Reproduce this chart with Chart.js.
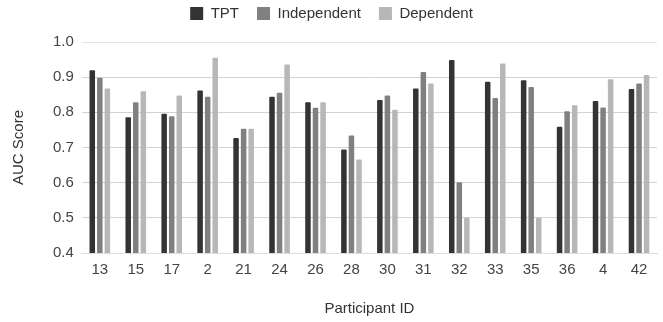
<!DOCTYPE html>
<html>
<head>
<meta charset="utf-8">
<script src="https://cdn.jsdelivr.net/npm/chart.js@4"></script>
<style>
  html, body { margin: 0; padding: 0; background: #fff; }
  #wrap { width: 663px; height: 322px; }
</style>
</head>
<body>
<div id="wrap"><canvas id="chart"></canvas></div>
<script>
// Dados do gráfico
const participantes = ['13', '15', '17', '2', '21', '24', '26', '28', '30', '31', '32', '33', '35', '36', '4', '42'];
const tpt =          [0.920, 0.786, 0.796, 0.862, 0.727, 0.844, 0.829, 0.694, 0.835, 0.868, 0.949, 0.887, 0.891, 0.759, 0.832, 0.866];
const independent =  [0.898, 0.829, 0.789, 0.844, 0.753, 0.856, 0.813, 0.734, 0.848, 0.915, 0.601, 0.841, 0.872, 0.803, 0.814, 0.882];
const dependent =    [0.868, 0.860, 0.848, 0.955, 0.753, 0.936, 0.829, 0.666, 0.807, 0.882, 0.500, 0.939, 0.500, 0.820, 0.894, 0.906];

const fonte = "'Liberation Sans', Arial, sans-serif";

// Espaço extra abaixo da legenda
const legendaEspaco = {
    id: 'legendaEspaco',
    beforeInit(chart) {
        const fitOriginal = chart.legend.fit;
        chart.legend.fit = function () {
            fitOriginal.call(this);
            this.height += 11;
        };
    }
};

const ctx = document.getElementById('chart').getContext('2d');
new Chart(ctx, {
    type: 'bar',
    data: {
        labels: participantes,
        datasets: [
            { label: 'TPT', data: tpt, backgroundColor: '#333333' },
            { label: 'Independent', data: independent, backgroundColor: '#808080' },
            { label: 'Dependent', data: dependent, backgroundColor: '#b7b7b7' }
        ]
    },
    plugins: [legendaEspaco],
    options: {
        responsive: true,
        maintainAspectRatio: false,
        animation: false,
        datasets: {
            bar: {
                categoryPercentage: 0.63,
                barPercentage: 0.73,
                borderRadius: 1
            }
        },
        layout: { padding: { left: 6, right: 6, top: -12, bottom: 0 } },
        plugins: {
            legend: {
                position: 'top',
                labels: {
                    boxWidth: 13,
                    boxHeight: 13,
                    padding: 18,
                    color: '#333',
                    font: { family: fonte, size: 15 }
                }
            },
            tooltip: { enabled: false }
        },
        scales: {
            x: {
                grid: { display: false },
                border: { display: true, color: '#dddddd' },
                ticks: { color: '#444', font: { family: fonte, size: 15 }, padding: 0 },
                title: {
                    display: true,
                    text: 'Participant ID',
                    color: '#333',
                    font: { family: fonte, size: 15 },
                    padding: { top: 21 }
                }
            },
            y: {
                min: 0.4,
                max: 1.0,
                grid: {
                    drawTicks: false,
                    color: c => (c.tick.value >= 0.99 || c.tick.value <= 0.41) ? '#e4e4e4' : '#d2d2d2'
                },
                border: { display: false },
                ticks: {
                    stepSize: 0.1,
                    color: '#444',
                    padding: 8,
                    font: { family: fonte, size: 15 },
                    callback: v => v.toFixed(1)
                },
                title: {
                    display: true,
                    text: 'AUC Score',
                    color: '#333',
                    font: { family: fonte, size: 15 },
                    padding: { bottom: 17 }
                }
            }
        }
    }
});
</script>
</body>
</html>
